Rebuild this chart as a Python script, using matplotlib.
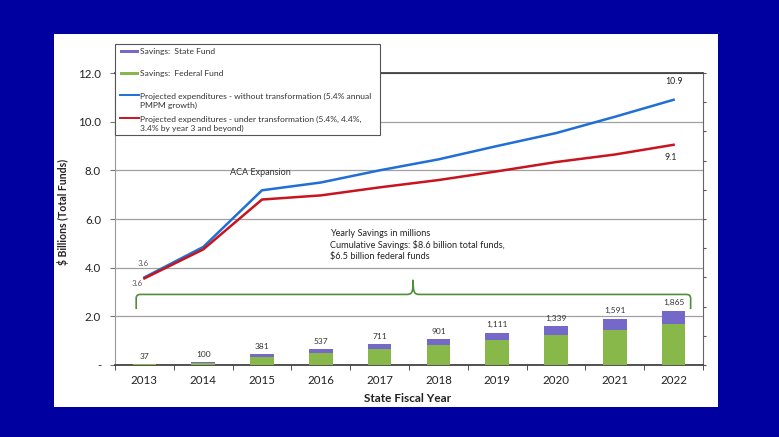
import matplotlib
matplotlib.use("Agg")
import matplotlib.pyplot as plt
from matplotlib.patches import Rectangle, PathPatch
from matplotlib.path import Path
from matplotlib.lines import Line2D

# ---------------- data ----------------
years = ["2013", "2014", "2015", "2016", "2017", "2018", "2019", "2020", "2021", "2022"]
without_transformation = [3.6, 4.85, 7.18, 7.5, 8.0, 8.45, 9.0, 9.53, 10.2, 10.9]
under_transformation = [3.56, 4.75, 6.8, 6.97, 7.3, 7.6, 7.96, 8.34, 8.65, 9.05]
savings_total = [37, 100, 381, 537, 711, 901, 1111, 1339, 1591, 1865]
savings_federal = [28, 75, 286, 410, 540, 685, 845, 1020, 1205, 1420]
savings_state = [t - f for t, f in zip(savings_total, savings_federal)]
y_ticks = [0, 2, 4, 6, 8, 10, 12]
y_ticklabels = ["-", "2.0", "4.0", "6.0", "8.0", "10.0", "12.0"]

FONT = ["Lato", "DejaVu Sans"]
plt.rcParams["font.family"] = FONT

W, H = 779, 437
def fx(x): return x / W
def fy(y): return 1 - y / H

fig = plt.figure(figsize=(W / 100, H / 100), dpi=100)
fig.patch.set_facecolor("#0000A0")
fig.add_artist(Rectangle((fx(54), fy(407)), (718 - 54) / W, (407 - 34) / H,
                         transform=fig.transFigure, facecolor="white",
                         edgecolor="none", zorder=-5))

ax = fig.add_axes([fx(115), fy(365), (703 - 115) / W, (365 - 73) / H])
ax.set_facecolor("none")
x = list(range(len(years)))
ax.set_xlim(-0.5, len(years) - 0.5)
ax.set_ylim(0, 12)
ax.set_yticks(y_ticks)
ax.set_yticklabels(y_ticklabels, fontsize=8.3, color="#222222")
ax.set_xticks(x)
ax.set_xticklabels(years, fontsize=8.3, color="#222222")
ax.set_xticks([i - 0.5 for i in range(len(years) + 1)], minor=True)
ax.tick_params(axis="x", which="major", length=0, pad=7)
ax.tick_params(axis="x", which="minor", length=3.5, color="#333333", direction="out")
ax.tick_params(axis="y", length=3.5, color="#777777", pad=6.5)
ax.yaxis.grid(True, color="#a0a0a0", lw=0.9)
ax.set_axisbelow(True)
for s, c, lw in [("top", "#333333", 1.2), ("bottom", "#333333", 1.2),
                 ("left", "#999999", 0.8), ("right", "#666666", 0.8)]:
    ax.spines[s].set_color(c)
    ax.spines[s].set_linewidth(lw)

ax.plot(x, without_transformation, color="#1F6FD6", lw=1.8, zorder=3)
ax.plot(x, under_transformation, color="#C8141E", lw=1.8, zorder=3)

# line value labels
lab_kw = dict(textcoords="offset points", ha="center", va="center", fontsize=5.8, color="#555555")
ax.annotate(f"{without_transformation[0]:.1f}", (x[0], without_transformation[0]), xytext=(-1, 10), **lab_kw)
ax.annotate(f"{under_transformation[0]:.1f}", (x[0], under_transformation[0]), xytext=(-5, -4), **lab_kw)
ax.annotate(f"{without_transformation[-1]:.1f}", (x[-1], without_transformation[-1]), xytext=(0, 13.5),
            textcoords="offset points", ha="center", va="center", fontsize=6.3, color="#222222")
ax.annotate("9.1", (x[-1], under_transformation[-1]), xytext=(-2, -9),
            textcoords="offset points", ha="center", va="center", fontsize=6.3, color="#222222")

ax.text(2 - 0.03, 7.93, "ACA Expansion", ha="center", va="center", fontsize=6.5, color="#333333")
ax.text(3.16, 4.93, "Yearly Savings in millions\nCumulative Savings: $8.6 billion total funds,\n$6.5 billion federal funds",
        ha="left", va="center", fontsize=6.6, color="#222222", linespacing=1.25)

# curly brace
xl, xr, xm = -0.14, len(years) - 1 + 0.29, 4.57
yb, ye, yp = 2.9, 2.3, 3.5
rx, ry = 0.07, 0.16
verts = [(xl, ye), (xl, yb - ry), (xl, yb), (xl + rx, yb),
         (xm - 0.12, yb),
         (xm - 0.02, yb), (xm, yb + 0.05), (xm, yp),
         (xm, yb + 0.05), (xm + 0.02, yb), (xm + 0.12, yb),
         (xr - rx, yb),
         (xr, yb), (xr, yb - ry), (xr, ye)]
codes = [Path.MOVETO, Path.LINETO, Path.CURVE3, Path.CURVE3,
         Path.LINETO,
         Path.CURVE4, Path.CURVE4, Path.CURVE4,
         Path.CURVE4, Path.CURVE4, Path.CURVE4,
         Path.LINETO,
         Path.CURVE3, Path.CURVE3, Path.LINETO]
ax.add_patch(PathPatch(Path(verts, codes), fill=False, edgecolor="#4E8F3A", lw=1.2, zorder=3))

# secondary axis with bars
ax2 = ax.twinx()
ax2.set_ylim(0, 10000)
ax2.set_yticks(range(0, 10001, 1000))
ax2.set_yticklabels([])
ax2.tick_params(axis="y", length=2.5, color="#555555", direction="out")
for s in ax2.spines.values():
    s.set_visible(False)
ax2.bar(x, savings_federal, width=0.4, color="#88B84A", zorder=2)
ax2.bar(x, savings_state, width=0.4, bottom=savings_federal, color="#7468C8", zorder=2)
for xi, t in zip(x, savings_total):
    ax2.annotate(f"{t:,}", (xi, t), xytext=(0, 3), textcoords="offset points",
                 ha="center", va="bottom", fontsize=6, color="#333333")

# axis titles
fig.text(fx(63), fy(212), "$ Billions (Total Funds)", rotation=90, ha="center", va="center",
         fontsize=7.6, fontweight="bold", color="#222222")
fig.text(fx(408), fy(399), "State Fiscal Year", ha="center", va="center",
         fontsize=8.5, fontweight="bold", color="#222222")

# legend (manual, drawn in figure coordinates)
fig.add_artist(Rectangle((fx(115), fy(135)), (380 - 115) / W, (135 - 44) / H,
                         transform=fig.transFigure, facecolor="white",
                         edgecolor="#555555", lw=0.8, zorder=5))
leg_fs = 6.1
entries = [
    ("patch", "#7468C8", 51.7, "Savings:  State Fund", 51.7),
    ("patch", "#88B84A", 73.3, "Savings:  Federal Fund", 73.3),
    ("line", "#1F6FD6", 95.0, "Projected expenditures - without transformation (5.4% annual\nPMPM growth)", 101.0),
    ("line", "#C8141E", 118.0, "Projected expenditures - under transformation (5.4%, 4.4%,\n3.4% by year 3 and beyond)", 124.0),
]
for kind, col, yh, txt, yt in entries:
    if kind == "patch":
        fig.add_artist(Rectangle((fx(120), fy(yh + 1.6)), 19 / W, 3.2 / H, transform=fig.transFigure,
                                 facecolor=col, edgecolor="none", zorder=6))
    else:
        fig.add_artist(Line2D([fx(120), fx(139)], [fy(yh), fy(yh)], transform=fig.transFigure,
                              color=col, lw=1.4, zorder=6))
    fig.text(fx(140.5), fy(yt), txt, ha="left", va="center", fontsize=leg_fs,
             color="#333333", linespacing=1.4, zorder=7)

fig.savefig("out.png", dpi=100, facecolor=fig.get_facecolor())
